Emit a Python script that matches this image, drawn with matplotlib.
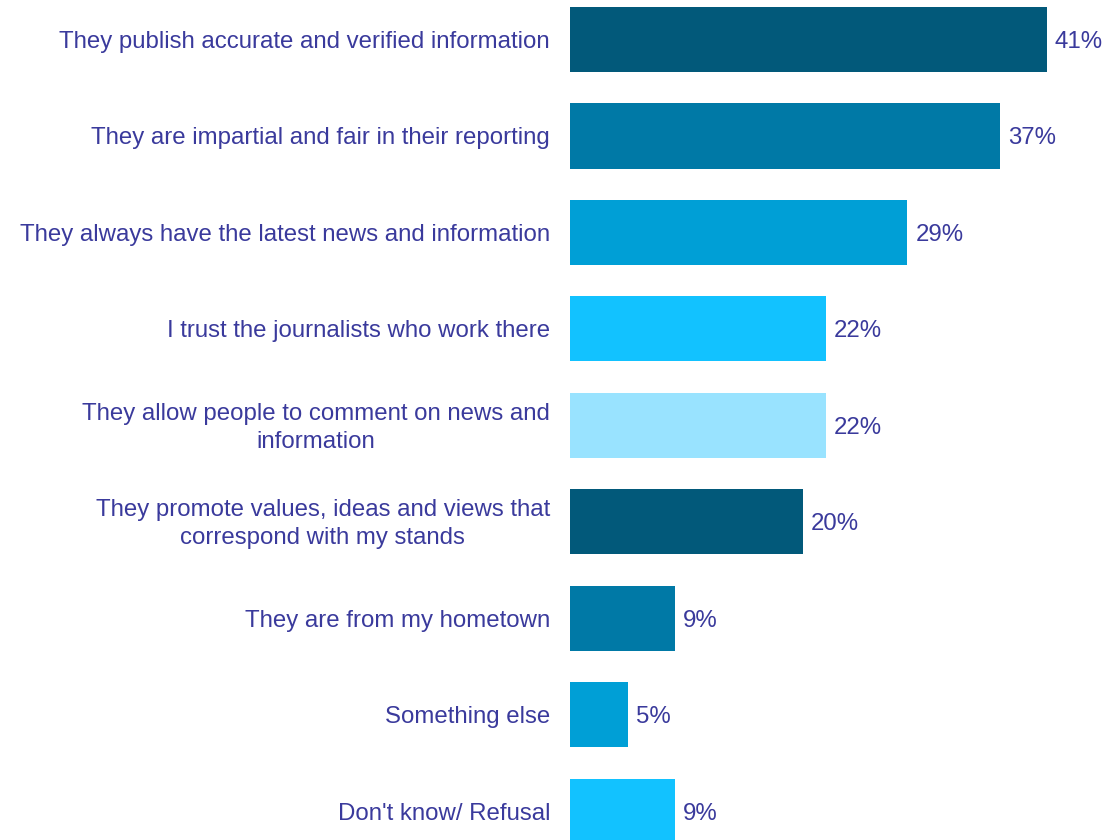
import matplotlib
matplotlib.use("Agg")
import matplotlib.pyplot as plt

plt.rcParams['font.family'] = ['Liberation Sans', 'DejaVu Sans']

categories = [
    "They publish accurate and verified information",
    "They are impartial and fair in their reporting",
    "They always have the latest news and information",
    "I trust the journalists who work there",
    "They allow people to comment on news and\ninformation",
    "They promote values, ideas and views that\ncorrespond with my stands",
    "They are from my hometown",
    "Something else",
    "Don't know/ Refusal",
]
values = [41, 37, 29, 22, 22, 20, 9, 5, 9]
colors = ["#02597A", "#0079A6", "#009FD6", "#12C2FF", "#99E3FF",
          "#02597A", "#0079A6", "#009FD6", "#12C2FF"]
text_color = "#3A3A9C"
fs = 17.3

fig = plt.figure(figsize=(11.06, 8.4), dpi=100)
ax = fig.add_axes([570 / 1106, 0, 1 - 570 / 1106, 1])

y = list(range(len(values)))
ax.barh(y, values, height=0.675, color=colors)

ax.set_xlim(0, 46.1)
ax.set_ylim(8.30, -0.41)

for i, v in enumerate(values):
    ax.text(v + 0.7, i, f"{v}%", va="center_baseline", ha="left",
            fontsize=fs, color=text_color)

# category labels to the left of the bars, wrapped ones centred on the bar
for i, cat in enumerate(categories):
    dy = 3 if "\n" in cat else 0
    ax.annotate(cat, xy=(0, i), xytext=(-20, dy), textcoords="offset pixels",
                ha="right", va="center_baseline", multialignment="center",
                fontsize=fs, color=text_color, linespacing=1.35,
                annotation_clip=False)

ax.set_yticks([])
ax.set_xticks([])
for s in ax.spines.values():
    s.set_visible(False)

fig.savefig("out.png", dpi=100)
